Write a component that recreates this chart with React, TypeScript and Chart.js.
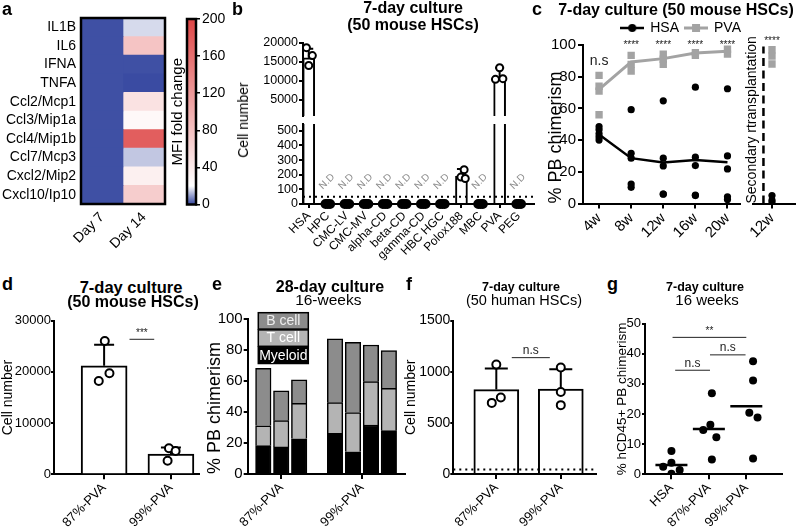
import React, { useEffect, useRef } from 'react';
import { Chart, registerables } from 'chart.js';

Chart.register(...registerables);

const FONT = '"Liberation Sans", Arial, Helvetica, sans-serif';
const K = '#000';
const GRAY = '#a3a3a3';

Chart.defaults.font.family = FONT;
Chart.defaults.color = K;
(Chart.defaults as any).animation = false;
Chart.defaults.plugins.legend.display = false;
Chart.defaults.plugins.tooltip.enabled = false;

// ---------------- a: heatmap ----------------
const genes = ['IL1B', 'IL6', 'IFNA', 'TNFA', 'Ccl2/Mcp1', 'Ccl3/Mip1a', 'Ccl4/Mip1b', 'Ccl7/Mcp3', 'Cxcl2/Mip2', 'Cxcl10/Ip10'];
const heatDays = ['Day 7', 'Day 14'];
const mfiDay7 = [1.3, 1.3, 1.3, 1.3, 1.3, 1.3, 1.3, 1.3, 1.3, 1.3];
const mfiDay14 = [16, 77, 1.3, 0.8, 48, 27, 177, 14, 35, 69];
const mfiTicks = [0, 40, 80, 120, 160, 200];
const mfiTitle = 'MFI fold change';

// ---------------- b ----------------
const bCategories = ['HSA', 'HPC', 'CMC-LV', 'CMC-MV', 'alpha-CD', 'beta-CD', 'gamma-CD', 'HBC HGC', 'Polox188', 'MBC', 'PVA', 'PEG'];
const bMeans = [16080, 0, 0, 0, 0, 0, 0, 0, 190, 0, 11100, 0];
const bErrTop = [18450, 0, 0, 0, 0, 0, 0, 0, 240, 0, 13450, 0];
const bReplicates = [
  [18770, 16680, 14070], [0, 0, 0], [0, 0, 0], [0, 0, 0], [0, 0, 0], [0, 0, 0],
  [0, 0, 0], [0, 0, 0], [234, 184, 174], [0, 0, 0], [13470, 10410, 10590], [0, 0, 0],
];
const bJitter = [
  [-0.12, 0.19, 0], [-0.12, 0, 0.12], [-0.12, 0, 0.12], [-0.12, 0, 0.12], [-0.12, 0, 0.12], [-0.12, 0, 0.12],
  [-0.12, 0, 0.12], [-0.12, 0, 0.12], [0.14, -0.03, 0.2], [-0.12, 0, 0.12], [0, -0.22, 0.17], [-0.12, 0, 0.12],
];
const bUpperRange = [740, 20000];
const bLowerRange = [0, 547];
const bUpperTicks = [5000, 10000, 15000, 20000];
const bLowerTicks = [0, 100, 200, 300, 400, 500];
const bDetectionLimit = 50;
const ndLabel = 'N.D';

// ---------------- c ----------------
const cWeeks = ['4w', '8w', '12w', '16w', '20w'];
const cHsaReps = [
  [48.5, 46.5, 44, 42, 40],
  [59.2, 31.7, 28.6, 12.3, 10.2],
  [64.8, 28.6, 23.7, 5.9, 6.0],
  [73.4, 29.2, 23.9, 5.3, 5.0],
  [72.4, 30, 21.8, 4.2, 2.5],
];
const cHsaLine = [43.5, 28.6, 25.8, 27.5, 26.0];
const cPvaReps = [[80.8, 74, 70.9, 56], [93.5, 87.8, 83.6], [94.2, 91, 87.8], [95.2, 93.5], [97.3, 94.2]];
const cPvaLine = [72, 89.3, 91.4, 95, 96];
const cSigText = ['n.s', '****', '****', '****', '****'];
const cSigY = [90, 100, 100, 100, 100];
const cTicks = [0, 20, 40, 60, 80, 100];
const cSecWeek = ['12w'];
const cSecHsa = [5, 2, 0.5];
const cSecPva = [97, 93, 88];
const cSecSig = '****';

// ---------------- d ----------------
const dGroups = ['87%-PVA', '99%-PVA'];
const dMeans = [21200, 3950];
const dErrTop = [25300, 5250];
const dReplicates = [[26050, 18220, 19720], [2660, 5080, 4550]];
const dJitter = [[0.01, -0.08, 0.08], [-0.05, -0.03, 0.07]];
const dTicks = [0, 10000, 20000, 30000];

// ---------------- e ----------------
const eGroups = ['87%-PVA', '99%-PVA'];
const eBarPos = [0, 1, 2, 4, 5, 6, 7];
const eBarGroup = [0, 0, 0, 1, 1, 1, 1];
const eMyeloid = [18.3, 17.5, 22.8, 26.3, 14.4, 31.7, 28.0];
const eTcell = [12.9, 17.0, 22.9, 19.8, 25.3, 28.0, 27.4];
const eBcell = [37.1, 19.2, 15.1, 41.2, 45.4, 23.7, 24.3];
const eTicks = [0, 20, 40, 60, 80, 100];

// ---------------- f ----------------
const fGroups = ['87%-PVA', '99%-PVA'];
const fMeans = [825, 831];
const fErrTop = [1030, 1023];
const fReplicates = [[695, 748, 1069], [1040, 802, 673]];
const fJitter = [[-0.07, 0.07, 0], [0, 0, 0]];
const fDetectionLimit = 45;
const fTicks = [0, 500, 1000, 1500];

// ---------------- g ----------------
const gGroups = ['HSA', '87%-PVA', '99%-PVA'];
const gValues = [[7.7, 2.5, 3.8, 1.4, 0.2], [26.9, 16.4, 14.7, 12.3, 4.9], [37.5, 31.1, 20.4, 18.8, 5.2]];
const gJitter = [[0, -0.22, 0, 0.22, 0], [0.08, 0.04, -0.15, 0.2, 0.08], [0.18, 0.18, 0.08, 0.3, 0.18]];
const gMeans = [3.1, 15.0, 22.6];
const gTicks = [0, 10, 20, 30, 40, 50];

// ---------------- helpers ----------------
const cmapStops: [number, number[]][] = [[0, [50, 68, 158]], [20, [255, 255, 255]], [200, [222, 70, 70]]];
function cmap(v: number) {
  for (let i = 1; i < cmapStops.length; i++) {
    const [v0, c0] = cmapStops[i - 1];
    const [v1, c1] = cmapStops[i];
    if (v <= v1 || i === cmapStops.length - 1) {
      const t = Math.max(0, Math.min(1, (v - v0) / (v1 - v0)));
      const c = c0.map((x, j) => Math.round(x + (c1[j] - x) * t));
      return `rgb(${c[0]},${c[1]},${c[2]})`;
    }
  }
  return '#fff';
}

function fixY(w: number, top: number, bottom: number) {
  return (s: any) => { s.width = w; s.paddingTop = top; s.paddingBottom = bottom; s.paddingLeft = 0; s.paddingRight = 0; };
}
function fixX(h: number, right: number) {
  return (s: any) => { s.height = h; s.paddingLeft = 0; s.paddingRight = right; s.paddingTop = 0; s.paddingBottom = 0; };
}

function yLin(o: any) {
  return {
    type: 'linear', position: 'left', min: o.min, max: o.max, stacked: o.stacked,
    border: { display: true, color: K, width: 2 },
    grid: { display: true, drawOnChartArea: false, drawTicks: true, tickLength: o.tickLen ?? 5, color: K, lineWidth: 2 },
    ticks: { color: K, font: { size: o.size }, padding: o.pad ?? 2, autoSkip: false, callback: (v: any) => String(v) },
    afterBuildTicks: (s: any) => { s.ticks = o.ticks.map((v: number) => ({ value: v })); },
    title: o.title
      ? { display: true, text: o.title, color: K, align: o.titleAlign || 'center', font: { size: o.titleSize }, padding: { top: o.titlePad ?? 4, bottom: 0 } }
      : { display: false },
    afterFit: fixY(o.w, o.top, o.bottom),
  };
}

function xLin(o: any) {
  return {
    type: 'linear', position: 'bottom', min: o.min, max: o.max, offset: false, stacked: o.stacked,
    display: o.display ?? true,
    border: { display: true, color: K, width: 2 },
    grid: { display: true, offset: false, drawOnChartArea: false, drawTicks: true, tickLength: o.tickLen ?? 5, color: K, lineWidth: 2 },
    ticks: { color: K, font: { size: o.size }, minRotation: 45, maxRotation: 45, autoSkip: false, padding: 1, callback: (_v: any, i: number) => o.labels[i] },
    afterBuildTicks: (s: any) => { s.ticks = o.ticks.map((v: number) => ({ value: v })); },
    afterFit: fixX(o.h, o.right),
  };
}

const framePlugin = {
  id: 'frame',
  afterDatasetsDraw(chart: any) {
    const { ctx, chartArea: a } = chart;
    ctx.save();
    ctx.strokeStyle = K;
    ctx.lineWidth = 2.5;
    ctx.strokeRect(a.left, a.top, a.right - a.left, a.bottom - a.top);
    ctx.restore();
  },
};

const errorBarPlugin = {
  id: 'errorBars',
  afterDatasetDraw(chart: any, args: any) {
    const ds = chart.data.datasets[args.index];
    if (!ds || !ds.errTop) return;
    const meta = args.meta;
    const ys = chart.scales[meta.yAxisID];
    const { ctx, chartArea: a } = chart;
    ctx.save();
    ctx.beginPath();
    ctx.rect(a.left - 30, a.top, a.right - a.left + 60, a.bottom - a.top);
    ctx.clip();
    ctx.strokeStyle = K;
    ctx.lineWidth = 2;
    meta.data.forEach((el: any, i: number) => {
      const top = ds.errTop[i];
      const v = ds.data[i].y;
      if (!(top > v)) return;
      const yt = ys.getPixelForValue(top);
      ctx.beginPath();
      ctx.moveTo(el.x, el.y);
      ctx.lineTo(el.x, yt);
      ctx.moveTo(el.x - ds.errCap / 2, yt);
      ctx.lineTo(el.x + ds.errCap / 2, yt);
      ctx.stroke();
    });
    ctx.restore();
  },
};
Chart.register(errorBarPlugin as any);

function sigPlugin(items: any[]) {
  return {
    id: 'sig',
    afterDraw(chart: any) {
      const { ctx, scales } = chart;
      const x = scales.x;
      const y = scales.y;
      ctx.save();
      items.forEach((s) => {
        const p1 = x.getPixelForValue(s.x1);
        const p2 = x.getPixelForValue(s.x2);
        const py = y.getPixelForValue(s.y);
        ctx.fillStyle = '#222';
        ctx.font = `${s.size}px ${FONT}`;
        ctx.textAlign = 'center';
        if (s.x1 !== s.x2) {
          ctx.strokeStyle = '#222';
          ctx.lineWidth = 1;
          ctx.beginPath();
          ctx.moveTo(p1, py);
          ctx.lineTo(p2, py);
          ctx.stroke();
          ctx.textBaseline = 'bottom';
          ctx.fillText(s.text, (p1 + p2) / 2, py - 1);
        } else {
          ctx.textBaseline = 'middle';
          ctx.fillText(s.text, p1, py);
        }
      });
      ctx.restore();
    },
  };
}

const ndPlugin = {
  id: 'nd',
  afterDatasetsDraw(chart: any) {
    const { ctx, scales } = chart;
    ctx.save();
    ctx.fillStyle = '#8c8c8c';
    ctx.font = `10px ${FONT}`;
    ctx.textAlign = 'left';
    ctx.textBaseline = 'alphabetic';
    bMeans.forEach((m, i) => {
      if (m !== 0) return;
      const px = scales.x.getPixelForValue(i);
      const py = scales.y.getPixelForValue(bDetectionLimit);
      ctx.save();
      ctx.translate(px - 5, py - 7);
      ctx.rotate(-Math.PI / 4);
      ctx.fillText(ndLabel, 0, 0);
      ctx.restore();
    });
    ctx.restore();
  },
};

const stackLegendPlugin = {
  id: 'stackLegend',
  afterDraw(chart: any) {
    const { ctx, chartArea: a } = chart;
    const items = chart.data.datasets.slice().reverse();
    ctx.save();
    ctx.font = `14px ${FONT}`;
    ctx.textAlign = 'center';
    ctx.textBaseline = 'middle';
    items.forEach((ds: any, i: number) => {
      const x0 = a.left + 10.6;
      const y0 = a.top - 6.6 + i * 17.2;
      const w = 50;
      const h = 16.4;
      ctx.fillStyle = ds.backgroundColor;
      ctx.fillRect(x0, y0, w, h);
      ctx.strokeStyle = K;
      ctx.lineWidth = 1.5;
      ctx.strokeRect(x0, y0, w, h);
      ctx.fillStyle = ds.legendText;
      ctx.fillText(ds.label, x0 + w / 2, y0 + h / 2 + 0.5);
    });
    ctx.restore();
  },
};

function makeIcon(color: string, shape: string, lw: number) {
  const c = document.createElement('canvas');
  c.width = 24;
  c.height = 12;
  const x = c.getContext('2d')!;
  x.strokeStyle = color;
  x.lineWidth = lw;
  x.beginPath();
  x.moveTo(0, 6);
  x.lineTo(24, 6);
  x.stroke();
  x.fillStyle = color;
  if (shape === 'circle') {
    x.beginPath();
    x.arc(12, 6, 4, 0, Math.PI * 2);
    x.fill();
  } else {
    x.fillRect(8, 2, 8, 8);
  }
  return c;
}

const flatPts = (reps: number[][], jit?: number[][]) =>
  reps.flatMap((r, i) => r.map((v, j) => ({ x: i + (jit ? jit[i][j] : 0), y: v })));

// canvas boxes (position of each chart on the page)
const BOXES = [
  { left: 0, top: 0, w: 170, h: 270 }, // a heatmap
  { left: 165, top: 0, w: 62, h: 215 }, // a colorbar
  { left: 230, top: 30, w: 310, h: 92 }, // b upper
  { left: 230, top: 118, w: 310, h: 152 }, // b lower
  { left: 541, top: 10, w: 206, h: 258 }, // c
  { left: 740, top: 10, w: 60, h: 258 }, // c secondary
  { left: 0, top: 305, w: 205, h: 223 }, // d
  { left: 200, top: 305, w: 210, h: 223 }, // e
  { left: 399, top: 305, w: 203, h: 223 }, // f
  { left: 610, top: 305, w: 190, h: 223 }, // g
];

function buildConfigs(icons: any): any[] {
  const base = { responsive: false, maintainAspectRatio: false, animation: false, devicePixelRatio: 1 };

  // a heatmap
  const heat = {
    type: 'bar',
    data: {
      labels: genes,
      datasets: [
        { label: heatDays[0], data: mfiDay7.map(() => 1), backgroundColor: mfiDay7.map(cmap), borderWidth: 0, barPercentage: 1, categoryPercentage: 1 },
        { label: heatDays[1], data: mfiDay14.map(() => 1), backgroundColor: mfiDay14.map(cmap), borderWidth: 0, barPercentage: 1, categoryPercentage: 1 },
      ],
    },
    options: {
      ...base,
      indexAxis: 'y',
      scales: {
        x: {
          type: 'linear', stacked: true, min: 0, max: 2,
          border: { display: false }, grid: { display: false, drawTicks: false },
          ticks: { color: K, font: { size: 14 }, minRotation: 45, maxRotation: 45, padding: 5, autoSkip: false, callback: (_v: any, i: number) => heatDays[i] },
          afterBuildTicks: (s: any) => { s.ticks = heatDays.map((_, i) => ({ value: i + 0.5 })); },
          afterFit: fixX(66, 5),
        },
        y: {
          type: 'category', stacked: true,
          border: { display: false }, grid: { display: false, drawTicks: false },
          ticks: { color: K, font: { size: 14 }, padding: 5, autoSkip: false },
          afterFit: fixY(81, 18, 66),
        },
      },
    },
    plugins: [framePlugin],
  };

  // a colorbar
  const colorbar = {
    type: 'bar',
    data: {
      labels: [mfiTitle],
      datasets: [{
        data: [mfiTicks[mfiTicks.length - 1]],
        yAxisID: 'y',
        borderWidth: 0, barPercentage: 1, categoryPercentage: 1,
        backgroundColor: (c: any) => {
          const a = c.chart.chartArea;
          if (!a) return '#fff';
          const g = c.chart.ctx.createLinearGradient(0, a.bottom, 0, a.top);
          const maxV = mfiTicks[mfiTicks.length - 1];
          cmapStops.forEach(([v]) => g.addColorStop(v / maxV, cmap(v)));
          return g;
        },
      }],
    },
    options: {
      ...base,
      scales: {
        x: { display: false, afterFit: fixX(0, 0) },
        yl: {
          position: 'left', min: 0, max: 200,
          ticks: { display: false }, grid: { display: false, drawTicks: false }, border: { display: false },
          title: { display: true, text: mfiTitle, color: K, font: { size: 15 }, padding: { top: 4, bottom: 0 } },
          afterFit: fixY(22, 19, 10.5),
        },
        y: {
          position: 'right', min: 0, max: 200,
          border: { display: true, color: K, width: 2 },
          grid: { drawOnChartArea: false, drawTicks: true, tickLength: 4, color: K, lineWidth: 1.5 },
          ticks: { color: K, font: { size: 14 }, padding: 2, callback: (v: any) => String(v) },
          afterBuildTicks: (s: any) => { s.ticks = mfiTicks.map((v) => ({ value: v })); },
          afterFit: (s: any) => { s.width = 31; s.paddingTop = 19; s.paddingBottom = 10.5; },
        },
      },
    },
    plugins: [framePlugin],
  };

  // b
  const bPointDs = (pts: any[], clip: any) => ({
    type: 'scatter', data: pts, order: 0, clip,
    pointRadius: pts.map((p) => (p.y === 0 ? 4 : 3.5)),
    pointBackgroundColor: pts.map((p) => (p.y === 0 ? K : '#fff')),
    pointBorderColor: K, pointBorderWidth: 2,
  });
  const bAll = flatPts(bReplicates, bJitter);
  const bBarDs = () => ({
    type: 'bar', data: bMeans.map((m, i) => ({ x: i, y: m })), order: 1, clip: 0,
    errTop: bErrTop, errCap: 9, barThickness: 12,
    backgroundColor: '#fff', borderColor: K, borderWidth: 2,
  });
  const bX = { min: -0.3, max: 11.8, ticks: bCategories.map((_, i) => i), labels: bCategories, size: 12, tickLen: 4 };
  const bUpper = {
    type: 'bar',
    data: { datasets: [bPointDs(bAll.filter((p) => p.y >= bUpperRange[0]), 0), bBarDs()] },
    options: {
      ...base,
      scales: {
        x: xLin({ ...bX, display: false, h: 0, right: 6 }),
        y: yLin({ min: bUpperRange[0], max: bUpperRange[1], ticks: bUpperTicks, size: 12.5, tickLen: 4, pad: 1, w: 73, top: 13, bottom: 5 }),
      },
    },
  };
  const bLower = {
    type: 'bar',
    data: {
      datasets: [
        bPointDs(bAll.filter((p) => p.y <= bLowerRange[1]), false),
        bBarDs(),
        {
          type: 'line', data: [{ x: bX.min, y: bDetectionLimit }, { x: bX.max, y: bDetectionLimit }], order: -1,
          borderColor: K, borderWidth: 2, borderDash: [2, 4], pointRadius: 0,
        },
      ],
    },
    options: {
      ...base,
      scales: {
        x: xLin({ ...bX, h: 66, right: 6 }),
        y: yLin({ min: bLowerRange[0], max: bLowerRange[1], ticks: bLowerTicks, size: 12.5, tickLen: 4, pad: 1, w: 73, top: 5, bottom: 66 }),
      },
    },
    plugins: [ndPlugin],
  };

  // c
  const cMain = {
    type: 'scatter',
    data: {
      datasets: [
        { label: 'HSA pts', data: flatPts(cHsaReps), pointRadius: 3.6, pointBackgroundColor: K, pointBorderWidth: 0, order: 0 },
        { label: 'PVA pts', data: flatPts(cPvaReps), pointStyle: 'rect', pointRadius: 5.2, pointBackgroundColor: GRAY, pointBorderWidth: 0, order: 1 },
        { label: 'HSA', type: 'line', data: cHsaLine.map((v, i) => ({ x: i, y: v })), borderColor: K, borderWidth: 2.5, pointRadius: 0, order: 2 },
        { label: 'PVA', type: 'line', data: cPvaLine.map((v, i) => ({ x: i, y: v })), borderColor: GRAY, borderWidth: 3, pointRadius: 0, order: 3 },
      ],
    },
    options: {
      ...base,
      plugins: {
        legend: {
          display: true, position: 'top', align: 'end',
          labels: {
            usePointStyle: true, pointStyleWidth: 22, padding: 6, color: K, font: { size: 14 },
            generateLabels: () => [
              { text: 'HSA', pointStyle: icons.hsa, fillStyle: K, strokeStyle: K, lineWidth: 0, hidden: false, fontColor: K, datasetIndex: 2 },
              { text: 'PVA', pointStyle: icons.pva, fillStyle: GRAY, strokeStyle: GRAY, lineWidth: 0, hidden: false, fontColor: K, datasetIndex: 3 },
            ],
          },
        },
      },
      scales: {
        x: xLin({ min: -0.5, max: 4.39, ticks: cWeeks.map((_, i) => i), labels: cWeeks, size: 15, h: 64.5, right: 7 }),
        y: yLin({ min: 0, max: 100, ticks: cTicks, size: 15, title: '% PB chimerism', titleSize: 18, titleAlign: 'start', w: 42, top: 35, bottom: 64.5 }),
      },
    },
    plugins: [sigPlugin(cSigText.map((t, i) => ({ x1: i, x2: i, y: cSigY[i], text: t, size: i === 0 ? 14 : 10 })))],
  };

  const cSec = {
    type: 'scatter',
    data: {
      datasets: [
        { data: cSecHsa.map((v) => ({ x: 0, y: v })), pointRadius: 3.6, pointBackgroundColor: K, pointBorderWidth: 0, order: 0 },
        { data: cSecPva.map((v) => ({ x: 0, y: v })), pointStyle: 'rect', pointRadius: 5.2, pointBackgroundColor: GRAY, pointBorderWidth: 0, order: 1 },
        { type: 'line', data: [{ x: -0.45, y: 0 }, { x: -0.45, y: 99 }], borderColor: K, borderWidth: 2.5, borderDash: [8, 4.5], pointRadius: 0, order: 2 },
      ],
    },
    options: {
      ...base,
      scales: {
        x: xLin({ min: -1, max: 1.2, ticks: [0], labels: cSecWeek, size: 15, h: 64.5, right: 3 }),
        y: {
          type: 'linear', min: 0, max: 100, position: 'left',
          ticks: { display: false }, grid: { display: false, drawTicks: false }, border: { display: false },
          title: { display: true, text: 'Secondary rtransplantation', color: K, align: 'start', font: { size: 14 }, padding: { top: 4, bottom: 0 } },
          afterFit: fixY(13, 35, 64.5),
        },
      },
    },
    plugins: [sigPlugin([{ x1: 0, x2: 0, y: 102.5, text: cSecSig, size: 10 }])],
  };

  // d
  const dPts = flatPts(dReplicates, dJitter);
  const dChart = {
    type: 'bar',
    data: {
      datasets: [
        { type: 'scatter', data: dPts, order: 0, pointRadius: 4, pointBackgroundColor: '#fff', pointBorderColor: K, pointBorderWidth: 2 },
        { type: 'bar', data: dMeans.map((m, i) => ({ x: i, y: m })), order: 1, errTop: dErrTop, errCap: 20, barThickness: 46, backgroundColor: '#fff', borderColor: K, borderWidth: 2 },
      ],
    },
    options: {
      ...base,
      scales: {
        x: xLin({ min: -0.75, max: 1.42, ticks: dGroups.map((_, i) => i), labels: dGroups, size: 13, h: 53.7, right: 5 }),
        y: yLin({ min: 0, max: 30000, ticks: dTicks, size: 13, tickLen: 3, pad: 0, title: 'Cell number', titleSize: 14, titlePad: 0, w: 54, top: 15.7, bottom: 53.7 }),
      },
    },
    plugins: [sigPlugin([{ x1: 0.38, x2: 0.75, y: 26370, text: '***', size: 10 }])],
  };

  // e
  const eDs = (label: string, vals: number[], color: string, txt: string) => ({
    label, legendText: txt, data: vals.map((v, i) => ({ x: eBarPos[i], y: v })),
    backgroundColor: color, borderColor: K, borderWidth: 1.5, barThickness: 15.5,
  });
  const eTickPos = eGroups.map((_, g) => {
    const p = eBarPos.filter((_, i) => eBarGroup[i] === g);
    return p.reduce((s, v) => s + v, 0) / p.length;
  });
  const eChart = {
    type: 'bar',
    data: {
      datasets: [
        eDs('Myeloid', eMyeloid, '#000000', '#ffffff'),
        eDs('T cell', eTcell, '#b4b4b4', '#ffffff'),
        eDs('B cell', eBcell, '#8c8c8c', '#eeeeee'),
      ],
    },
    options: {
      ...base,
      scales: {
        x: xLin({ min: -0.87, max: 7.9, ticks: eTickPos, labels: eGroups, size: 13, h: 54, right: 5, stacked: true }),
        y: yLin({ min: 0, max: 100, ticks: eTicks, size: 15, tickLen: 4, pad: 1, title: '% PB chimerism', titleSize: 18, titleAlign: 'start', w: 47.7, top: 14.3, bottom: 54, stacked: true }),
      },
    },
    plugins: [stackLegendPlugin],
  };

  // f
  const fPts = flatPts(fReplicates, fJitter);
  const fXmin = -0.667;
  const fXmax = 1.546;
  const fChart = {
    type: 'bar',
    data: {
      datasets: [
        { type: 'scatter', data: fPts, order: 0, pointRadius: 4, pointBackgroundColor: '#fff', pointBorderColor: K, pointBorderWidth: 2 },
        { type: 'bar', data: fMeans.map((m, i) => ({ x: i, y: m })), order: 1, errTop: fErrTop, errCap: 23, barThickness: 45, backgroundColor: '#fff', borderColor: K, borderWidth: 2 },
        { type: 'line', data: [{ x: fXmin, y: fDetectionLimit }, { x: fXmax, y: fDetectionLimit }], order: -1, borderColor: K, borderWidth: 2, borderDash: [2, 4], pointRadius: 0 },
      ],
    },
    options: {
      ...base,
      scales: {
        x: xLin({ min: fXmin, max: fXmax, ticks: fGroups.map((_, i) => i), labels: fGroups, size: 13, h: 54, right: 2 }),
        y: yLin({ min: 0, max: 1500, ticks: fTicks, size: 14, tickLen: 3, pad: 0, title: 'Cell number', titleSize: 14, w: 54.3, top: 15.5, bottom: 54 }),
      },
    },
    plugins: [sigPlugin([{ x1: 0.24, x2: 0.83, y: 1137, text: 'n.s', size: 12 }])],
  };

  // g
  const gChart = {
    type: 'scatter',
    data: {
      datasets: [
        { data: flatPts(gValues, gJitter), pointRadius: 4, pointBackgroundColor: K, pointBorderWidth: 0, order: 0 },
        { data: gMeans.map((m, i) => ({ x: i, y: m })), pointStyle: 'line', pointRadius: 16, pointBorderColor: K, pointBorderWidth: 2.5, order: 1 },
      ],
    },
    options: {
      ...base,
      scales: {
        x: xLin({ min: -0.706, max: 2.94, ticks: gGroups.map((_, i) => i), labels: gGroups, size: 13, h: 53.7, right: 0 }),
        y: yLin({ min: 0, max: 50, ticks: gTicks, size: 13, pad: 1, tickLen: 3, title: '% hCD45+ PB chimerism', titleSize: 13.5, w: 35, top: 15.7, bottom: 53.7 }),
      },
    },
    plugins: [sigPlugin([
      { x1: 0.03, x2: 2, y: 45.4, text: '**', size: 10 },
      { x1: 1.03, x2: 1.98, y: 39.6, text: 'n.s', size: 12 },
      { x1: 0.1, x2: 1.03, y: 34.5, text: 'n.s', size: 12 },
    ])],
  };

  return [heat, colorbar, bUpper, bLower, cMain, cSec, dChart, eChart, fChart, gChart];
}

type T = { t: string; x: number; y: number; size: number; bold?: boolean; left?: boolean; rot?: boolean };
const TEXTS: T[] = [
  { t: 'a', x: 2, y: 8.8, size: 18, bold: true, left: true },
  { t: 'b', x: 232, y: 8.8, size: 18, bold: true, left: true },
  { t: 'c', x: 532, y: 8.8, size: 18, bold: true, left: true },
  { t: 'd', x: 2, y: 283.8, size: 18, bold: true, left: true },
  { t: 'e', x: 212, y: 283.8, size: 18, bold: true, left: true },
  { t: 'f', x: 406, y: 283.8, size: 18, bold: true, left: true },
  { t: 'g', x: 607, y: 283.8, size: 18, bold: true, left: true },
  { t: '7-day culture', x: 413, y: 7.5, size: 16, bold: true },
  { t: '(50 mouse HSCs)', x: 413, y: 24.5, size: 16, bold: true },
  { t: '7-day culture (50 mouse HSCs)', x: 676, y: 10, size: 16, bold: true },
  { t: '7-day culture', x: 131, y: 286.5, size: 16.5, bold: true },
  { t: '(50 mouse HSCs)', x: 133, y: 301.5, size: 16, bold: true },
  { t: '28-day culture', x: 330, y: 287, size: 16, bold: true },
  { t: '16-weeks', x: 328.3, y: 299.5, size: 15.5 },
  { t: '7-day culture', x: 521, y: 287, size: 12.5, bold: true },
  { t: '(50 human HSCs)', x: 524, y: 300, size: 14.5 },
  { t: '7-day culture', x: 705, y: 286.5, size: 12.5, bold: true },
  { t: '16 weeks', x: 707, y: 298.5, size: 15 },
  { t: 'Cell number', x: 243, y: 120, size: 14, rot: true },
];

export default function App() {
  const refs = useRef<(HTMLCanvasElement | null)[]>([]);
  useEffect(() => {
    const icons = { hsa: makeIcon(K, 'circle', 2.5), pva: makeIcon(GRAY, 'rect', 3) };
    const configs = buildConfigs(icons);
    const charts = configs.map((cfg, i) => new Chart(refs.current[i] as HTMLCanvasElement, cfg));
    return () => charts.forEach((c) => c.destroy());
  }, []);
  return (
    <div style={{ position: 'absolute', left: 0, top: 0, width: 800, height: 528, background: '#fff', overflow: 'hidden', fontFamily: FONT, color: K }}>
      {BOXES.map((b, i) => (
        <canvas
          key={i}
          ref={(el) => { refs.current[i] = el; }}
          width={b.w}
          height={b.h}
          style={{ position: 'absolute', left: b.left, top: b.top, width: b.w, height: b.h }}
        />
      ))}
      {TEXTS.map((t, i) => (
        <div
          key={'t' + i}
          style={{
            position: 'absolute', left: t.x, top: t.y, fontSize: t.size, lineHeight: 1,
            fontWeight: t.bold ? 700 : 400, whiteSpace: 'nowrap',
            transform: t.left ? 'translateY(-50%)' : t.rot ? 'translate(-50%,-50%) rotate(-90deg)' : 'translate(-50%,-50%)',
          }}
        >
          {t.t}
        </div>
      ))}
    </div>
  );
}
